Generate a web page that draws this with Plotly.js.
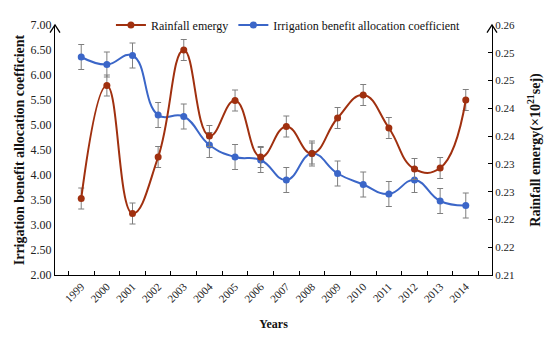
<!DOCTYPE html>
<html><head><meta charset="utf-8">
<script src="https://cdn.plot.ly/plotly-3.0.1.min.js"></script>
<style>html,body{margin:0;padding:0;background:#fff}#chart{width:550px;height:337px}</style>
</head><body><div id="chart"></div>
<script>
const years = ['1999','2000','2001','2002','2003','2004','2005','2006','2007','2008','2009','2010','2011','2012','2013','2014'];
const irrigation = [6.36,6.21,6.39,5.20,5.17,4.60,4.36,4.30,3.90,4.43,4.03,3.81,3.62,3.90,3.48,3.39];
const irrigationErr = 0.25;
const rainfall = [0.2253,0.2479,0.2223,0.2336,0.2550,0.2378,0.2449,0.2336,0.2397,0.2343,0.2414,0.2460,0.2394,0.2312,0.2314,0.2450];
const rainfallErr = 0.0021;
const rightTickText = ['0.21','0.22','0.22','0.23','0.23','0.24','0.24','0.25','0.25','0.26'];
const rightTickVals = rightTickText.map((_, i) => 0.21 + i * 0.05 / 9);

const serif = 'Liberation Serif, Times New Roman, serif';
const red = '#a0300f';
const blue = '#3b66c8';

const traces = [
  {x: years, y: rainfall, yaxis: 'y2', name: 'Rainfall emergy', type: 'scatter', mode: 'lines+markers',
   line: {color: red, width: 2, shape: 'spline', smoothing: 1.3}, marker: {color: red, size: 7},
   error_y: {type: 'constant', value: rainfallErr, color: '#7f7f7f', thickness: 1, width: 3}},
  {x: years, y: irrigation, name: 'Irrigation benefit allocation coefficient', type: 'scatter', mode: 'lines+markers',
   line: {color: blue, width: 2, shape: 'spline', smoothing: 1.3}, marker: {color: blue, size: 7},
   error_y: {type: 'constant', value: irrigationErr, color: '#7f7f7f', thickness: 1, width: 3}}
];

const aw = 5/438, ah = 8/265;
const arrow = (x) => ({type: 'path', xref: 'paper', yref: 'paper',
  path: `M ${x-aw} ${1-ah} L ${x} 1 L ${x+aw} ${1-ah}`, line: {color: '#000', width: 1.3}});

const layout = {
  width: 550, height: 337,
  margin: {l: 55, r: 58, t: 10, b: 62},
  paper_bgcolor: '#fff', plot_bgcolor: '#fff',
  font: {family: serif, size: 12, color: '#222'},
  showlegend: true,
  legend: {orientation: 'h', x: 0.128, y: 1.0, yanchor: 'middle', xanchor: 'left',
    bgcolor: 'rgba(0,0,0,0)', font: {family: serif, size: 12, color: '#111'}, itemwidth: 30, tracegroupgap: 0},
  xaxis: {type: 'category', showline: true, linecolor: '#000', linewidth: 1, ticks: 'inside', ticklen: 4,
    tickcolor: '#000', tickson: 'boundaries', tickangle: -45, showgrid: false, zeroline: false,
    tickfont: {family: serif, size: 11, color: '#222'},
    title: {text: '<b>Years</b>', font: {family: serif, size: 12, color: '#111'}, standoff: 16}},
  yaxis: {range: [2, 7], dtick: 0.5, tickformat: '.2f', showline: true, linecolor: '#000', linewidth: 1,
    ticks: '', showgrid: false, zeroline: false, tickfont: {family: serif, size: 12, color: '#222'},
    title: {text: '<b>Irrigation benefit allocation coefficient</b>', font: {family: serif, size: 14, color: '#111'}, standoff: 2}},
  yaxis2: {overlaying: 'y', side: 'right', range: [0.21, 0.26], tickvals: rightTickVals, ticktext: rightTickText,
    showline: true, linecolor: '#000', linewidth: 1, ticks: 'inside', ticklen: 4, tickcolor: '#000',
    showgrid: false, zeroline: false, tickfont: {family: serif, size: 11, color: '#222'},
    title: {text: '<b>Rainfall emergy(×10<sup>21</sup>sej)</b>', font: {family: serif, size: 14, color: '#111'}, standoff: 16}},
  shapes: [arrow(0), arrow(1)]
};

Plotly.newPlot('chart', traces, layout, {displayModeBar: false, staticPlot: true});
</script></body></html>
